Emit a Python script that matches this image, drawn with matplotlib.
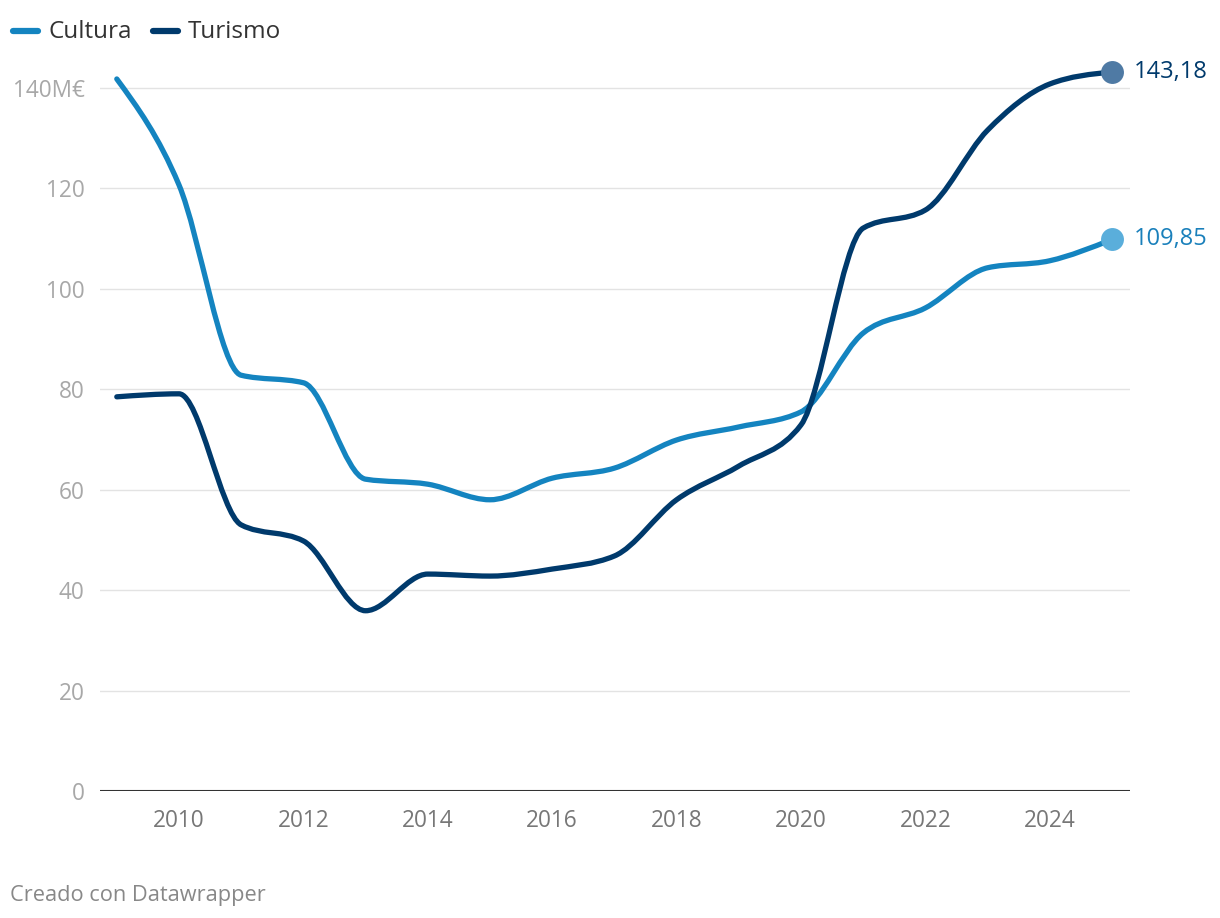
import matplotlib.pyplot as plt
import numpy as np
from matplotlib.path import Path
from matplotlib.patches import PathPatch
from matplotlib.lines import Line2D

plt.rcParams['font.family'] = ['Open Sans', 'DejaVu Sans']

years = list(range(2009, 2026))
cultura = [141.8, 120.7, 82.8, 81.3, 62.1, 61.1, 58.0, 62.3, 64.3, 69.9,
           72.5, 75.5, 91.2, 96.2, 104.2, 105.6, 109.85]
turismo = [78.5, 79.1, 53.0, 49.8, 35.9, 43.2, 42.8, 44.2, 46.8, 58.0,
           64.7, 72.9, 112.1, 115.7, 131.6, 140.8, 143.18]
yticks = [0, 20, 40, 60, 80, 100, 120, 140]
ytick_labels = ['0', '20', '40', '60', '80', '100', '120', '140M€']
xticks = [2010, 2012, 2014, 2016, 2018, 2020, 2022, 2024]

c_cult = '#1484c0'
c_tur = '#003a6c'


def monotone_path(x, y):
    # same curve as d3.curveMonotoneX, drawn as cubic bezier segments
    x = np.asarray(x, float)
    y = np.asarray(y, float)
    n = len(x)
    h = np.diff(x)
    s = np.diff(y) / h
    t = np.zeros(n)
    for i in range(1, n - 1):
        p = (s[i - 1] * h[i] + s[i] * h[i - 1]) / (h[i - 1] + h[i])
        t[i] = (np.sign(s[i - 1]) + np.sign(s[i])) * min(abs(s[i - 1]), abs(s[i]), 0.5 * abs(p))
    t[0] = (3 * s[0] - t[1]) / 2
    t[-1] = (3 * s[-1] - t[-2]) / 2
    verts = [(x[0], y[0])]
    codes = [Path.MOVETO]
    for i in range(n - 1):
        dx = h[i] / 3
        verts += [(x[i] + dx, y[i] + dx * t[i]),
                  (x[i + 1] - dx, y[i + 1] - dx * t[i + 1]),
                  (x[i + 1], y[i + 1])]
        codes += [Path.CURVE4] * 3
    return Path(verts, codes)


fig = plt.figure(figsize=(12.2, 9.18), dpi=100)
ax = fig.add_axes([100 / 1220, 1 - 791 / 918, 1030 / 1220, (791 - 37.8) / 918])
ax.set_xlim(2008.73, 2025.29)
ax.set_ylim(0, 150)

for v in yticks[1:]:
    ax.axhline(v, color='#e3e3e3', lw=1, zorder=1)
ax.axhline(0, color='#333333', lw=1.5, zorder=3)

for vals, col, dot in [(cultura, c_cult, '#5aaedb'), (turismo, c_tur, '#4f7aa4')]:
    ax.add_patch(PathPatch(monotone_path(years, vals), fill=False, edgecolor=col,
                           lw=3.8, capstyle='round', joinstyle='round', zorder=4,
                           clip_on=False))
    ax.plot(years[-1], vals[-1], 'o', ms=16.5, color=dot, mec='none', zorder=5, clip_on=False)
    ax.annotate(f'{vals[-1]:.2f}'.replace('.', ','), (years[-1], vals[-1]),
                xytext=(16, 0), textcoords='offset points', va='center', ha='left',
                fontsize=17, color=col if col == c_tur else '#1a80bb', annotation_clip=False)

for s in ax.spines.values():
    s.set_visible(False)
ax.set_yticks(yticks)
ax.set_yticklabels(ytick_labels)
ax.set_xticks(xticks)
ax.tick_params(axis='y', length=0, pad=11, labelsize=16.3, labelcolor='#a8a8a8')
ax.tick_params(axis='x', length=0, pad=13, labelsize=16.3, labelcolor='#777777')

# legend
fig.add_artist(Line2D([13 / 1220, 38 / 1220], [1 - 31 / 918] * 2, color=c_cult, lw=4.5,
                      solid_capstyle='round'))
fig.text(48 / 1220, 1 - 32 / 918, 'Cultura', fontsize=17.5, color='#333333', va='center')
fig.add_artist(Line2D([153 / 1220, 178 / 1220], [1 - 31 / 918] * 2, color=c_tur, lw=4.5,
                      solid_capstyle='round'))
fig.text(188 / 1220, 1 - 32 / 918, 'Turismo', fontsize=17.5, color='#333333', va='center')

fig.text(10 / 1220, 1 - 895 / 918, 'Creado con Datawrapper', fontsize=15.7,
         color='#888888', va='center')

fig.savefig('out.png', dpi=100)
